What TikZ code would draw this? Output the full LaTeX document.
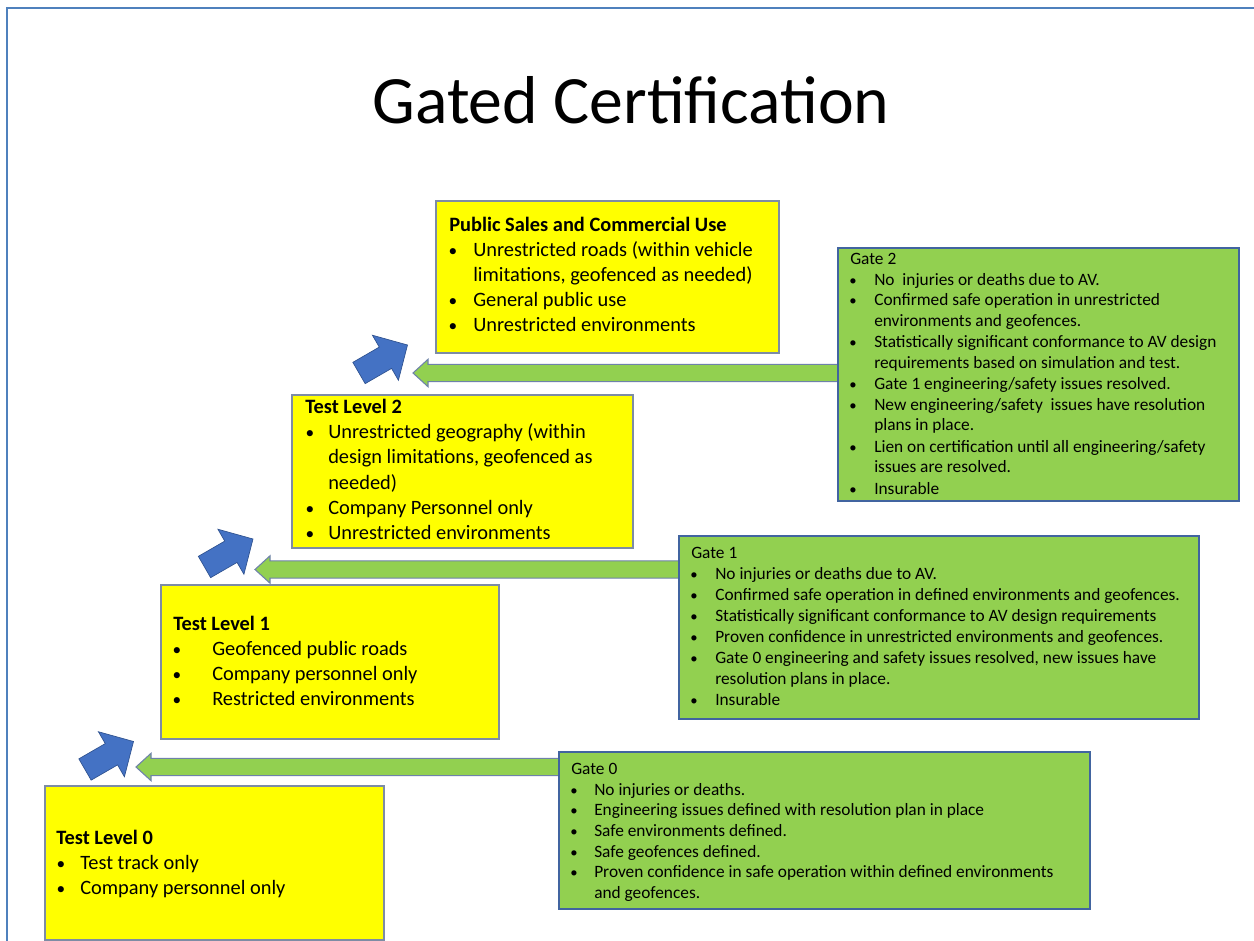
\documentclass[tikz,border=0pt]{standalone}
\usepackage{fontspec}
\setmainfont{Carlito}
\usetikzlibrary{calc,fit,backgrounds}
\definecolor{frameblue}{RGB}{79,129,189}
\definecolor{yfill}{RGB}{255,255,0}
\definecolor{yedge}{RGB}{125,140,165}
\definecolor{gfill}{RGB}{146,208,80}
\definecolor{gedge}{RGB}{65,100,160}
\definecolor{bfill}{RGB}{68,114,196}
\definecolor{bedge}{RGB}{47,82,143}
\definecolor{aedge}{RGB}{110,130,170}
\tikzset{
  ybox/.style={draw=yedge, fill=yfill, line width=1.1pt, inner sep=0pt},
  gbox/.style={draw=gedge, fill=gfill, line width=1.1pt, inner sep=0pt},
  ytxt/.style={anchor=base west, inner sep=0pt, font=\fontsize{15.3}{18}\selectfont},
  gtxt/.style={anchor=base west, inner sep=0pt, font=\fontsize{13}{15}\selectfont},
  garr/.style={fill=gfill, draw=aedge, line width=0.8pt, line join=miter},
  barr/.style={fill=bfill, draw=bedge, line width=0.5pt, line join=miter},
}
\newcommand\bul{\scalebox{0.85}{\textbullet}}
% yellow text lines
\newcommand\yl[4]{\node[ytxt] (#1) at (#2,#3) {#4};}
\newcommand\yb[5]{\node[ytxt,anchor=base] (#1b) at (#2,#4) {\bul};\node[ytxt] (#1) at (#3,#4) {#5};}
% green text lines
\newcommand\gl[4]{\node[gtxt] (#1) at (#2,#3) {#4};}
\newcommand\gb[5]{\node[gtxt,anchor=base] (#1b) at (#2,#4) {\bul};\node[gtxt] (#1) at (#3,#4) {#5};}
% blue block arrow
\newcommand\bluearrow[2]{\begin{scope}[shift={(#1,#2)},rotate=30]
  \draw[barr] (0,-12.3) -- (30.5,-12.3) -- (30.5,-26) -- (56,0) -- (30.5,26) -- (30.5,12.3) -- (0,12.3) -- cycle;
\end{scope}}
% green block arrow from box #1 to tip coordinate #2
\newcommand\greenarrow[2]{%
  \draw[garr] (#2) -- ($(#2)+(15,-13.7)$) -- ($(#2)+(15,-8.7)$) -- ($(#1.west|-#2)+(1,-8.7)$)
   -- ($(#1.west|-#2)+(1,8.7)$) -- ($(#2)+(15,8.7)$) -- ($(#2)+(15,13.7)$) -- cycle;}
\begin{document}
\begin{tikzpicture}[x=0.75pt,y=-0.75pt]
\useasboundingbox (0,0) rectangle (1254,941);
\draw[frameblue, line width=2.2pt] (7,941) -- (7,8) -- (1254,8);

\node[font=\fontsize{50.8}{60}\selectfont, anchor=base, inner sep=0pt] (title) at (631,124) {Gated Certification};

% boxes
\node[ybox, fit={(436,201)(779,353)}] (pub) {};
\node[gbox, fit={(838,248)(1239,501)}] (g2) {};
\node[ybox, fit={(292,395)(633,548)}] (tl2) {};
\node[gbox, fit={(679,536)(1199,719)}] (g1) {};
\node[ybox, fit={(161,585)(499,739)}] (tl1) {};
\node[gbox, fit={(559,752)(1090,909)}] (g0) {};
\node[ybox, fit={(45,786)(384,940)}] (tl0) {};

% arrows behind boxes
\coordinate (t2) at (413,373);
\coordinate (t1) at (255,569.5);
\coordinate (t0) at (136,767);
\begin{scope}[on background layer]
\greenarrow{g2}{t2}
\greenarrow{g1}{t1}
\greenarrow{g0}{t0}
\end{scope}
\bluearrow{359}{373}
\bluearrow{204.5}{567}
\bluearrow{85}{769.5}

% Public Sales
\yl{p0}{449}{232}{\textbf{Public Sales and Commercial Use}}
\yb{p1}{453}{473}{257}{Unrestricted roads (within vehicle}
\yl{p2}{473}{282}{limitations, geofenced as needed)}
\yb{p3}{453}{473}{307}{General public use}
\yb{p4}{453}{473}{332}{Unrestricted environments}

% Test Level 2
\yl{a0}{305}{414}{\textbf{Test Level 2}}
\yb{a1}{310}{328}{439}{Unrestricted geography (within}
\yl{a2}{328}{464}{design limitations, geofenced as}
\yl{a3}{328}{489}{needed)}
\yb{a4}{310}{328}{514}{Company Personnel only}
\yb{a5}{310}{328}{539}{Unrestricted environments}

% Test Level 1
\yl{c0}{173}{630}{\textbf{Test Level 1}}
\yb{c1}{177}{212}{655}{Geofenced public roads}
\yb{c2}{177}{212}{680}{Company personnel only}
\yb{c3}{177}{212}{705}{Restricted environments}

% Test Level 0
\yl{d0}{56}{844}{\textbf{Test Level 0}}
\yb{d1}{61}{80}{869}{Test track only}
\yb{d2}{61}{80}{894}{Company personnel only}

% Gate 2
\gl{e0}{850}{265}{Gate 2}
\gb{e1}{853}{874}{286}{No\ \ injuries or deaths due to AV.}
\gb{e2}{853}{874}{306}{Confirmed safe operation in unrestricted}
\gl{e3}{874}{327}{environments and geofences.}
\gb{e4}{853}{874}{348}{Statistically significant conformance to AV design}
\gl{e5}{874}{369}{requirements based on simulation and test.}
\gb{e6}{853}{874}{390}{Gate 1 engineering/safety issues resolved.}
\gb{e7}{853}{874}{411}{New engineering/safety\ \ issues have resolution}
\gl{e8}{874}{431}{plans in place.}
\gb{e9}{853}{874}{452}{Lien on certification until all engineering/safety}
\gl{e10}{874}{473}{issues are resolved.}
\gb{e11}{853}{874}{494}{Insurable}

% Gate 1
\gl{f0}{691}{558}{Gate 1}
\gb{f1}{694}{715}{579}{No injuries or deaths due to AV.}
\gb{f2}{694}{715}{600}{Confirmed safe operation in defined environments and geofences.}
\gb{f3}{694}{715}{621}{Statistically significant conformance to AV design requirements}
\gb{f4}{694}{715}{642}{Proven confidence in unrestricted environments and geofences.}
\gb{f5}{694}{715}{663}{Gate 0 engineering and safety issues resolved, new issues have}
\gl{f6}{715}{684}{resolution plans in place.}
\gb{f7}{694}{715}{705}{Insurable}

% Gate 0
\gl{h0}{571}{774}{Gate 0}
\gb{h1}{574}{594}{795}{No injuries or deaths.}
\gb{h2}{574}{594}{815}{Engineering issues defined with resolution plan in place}
\gb{h3}{574}{594}{836}{Safe environments defined.}
\gb{h4}{574}{594}{857}{Safe geofences defined.}
\gb{h5}{574}{594}{877}{Proven confidence in safe operation within defined environments}
\gl{h6}{594}{898}{and geofences.}
\end{tikzpicture}
\end{document}
